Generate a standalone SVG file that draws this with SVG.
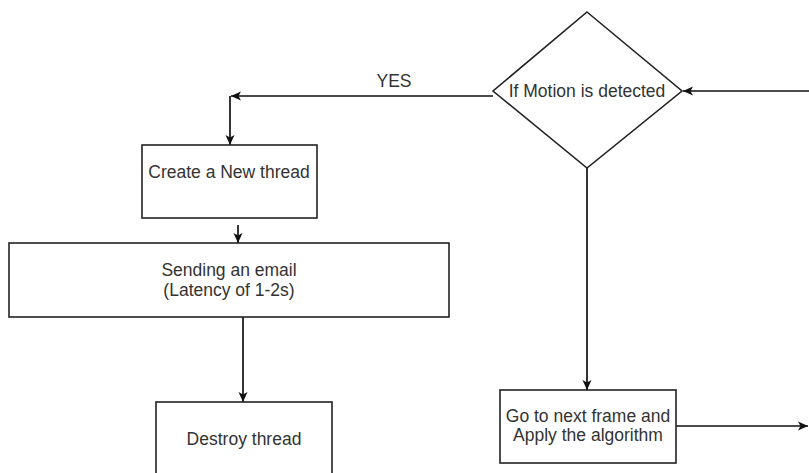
<svg xmlns="http://www.w3.org/2000/svg" width="809" height="473" viewBox="0 0 809 473">
  <style>
    .node { fill: #ffffff; stroke: #222222; stroke-width: 1.6; }
    .lbl { font-family: "Liberation Sans", Arial, sans-serif; font-size: 17.5px; fill: #333333; text-anchor: middle; }
    .edge { fill: none; stroke: #111111; stroke-width: 1.7; }
  </style>
  <defs>
    <marker id="arrow" markerUnits="userSpaceOnUse" markerWidth="11" markerHeight="10" refX="10" refY="5" orient="auto" viewBox="0 0 11 10">
      <path d="M0,0.5 L10,5 L0,9.5 L2.5,5 z" fill="#111111"/>
    </marker>
  </defs>
  <rect width="809" height="473" fill="#ffffff"/>

  <g id="connectors">
    <path class="edge" d="M493,96 L231,96" marker-end="url(#arrow)"/>
    <path class="edge" d="M230,96 L230,145" marker-end="url(#arrow)"/>
    <path class="edge" d="M238,225 L238,243" marker-end="url(#arrow)"/>
    <path class="edge" d="M243,317 L243,402" marker-end="url(#arrow)"/>
    <path class="edge" d="M587,168 L587,390" marker-end="url(#arrow)"/>
    <path class="edge" d="M676,426 L808,426" marker-end="url(#arrow)"/>
    <path class="edge" d="M809,91 L683,91" marker-end="url(#arrow)"/>
    <text class="lbl" x="394" y="87">YES</text>
  </g>

  <g id="decision">
    <polygon class="node" points="587,12 682,91 587,168 493,91"/>
    <text class="lbl" x="587" y="97">If Motion is detected</text>
  </g>

  <g id="create-thread">
    <rect class="node" x="142" y="145" width="175" height="73"/>
    <text class="lbl" x="229" y="178">Create a New thread</text>
  </g>

  <g id="send-email">
    <rect class="node" x="9" y="243" width="440" height="74"/>
    <text class="lbl" x="229" y="276">Sending an email</text>
    <text class="lbl" x="229" y="296">(Latency of 1-2s)</text>
  </g>

  <g id="destroy-thread">
    <rect class="node" x="156" y="402" width="176" height="80"/>
    <text class="lbl" x="244" y="445">Destroy thread</text>
  </g>

  <g id="next-frame">
    <rect class="node" x="500" y="390" width="176" height="73"/>
    <text class="lbl" x="588" y="422">Go to next frame and</text>
    <text class="lbl" x="588" y="441">Apply the algorithm</text>
  </g>
</svg>
